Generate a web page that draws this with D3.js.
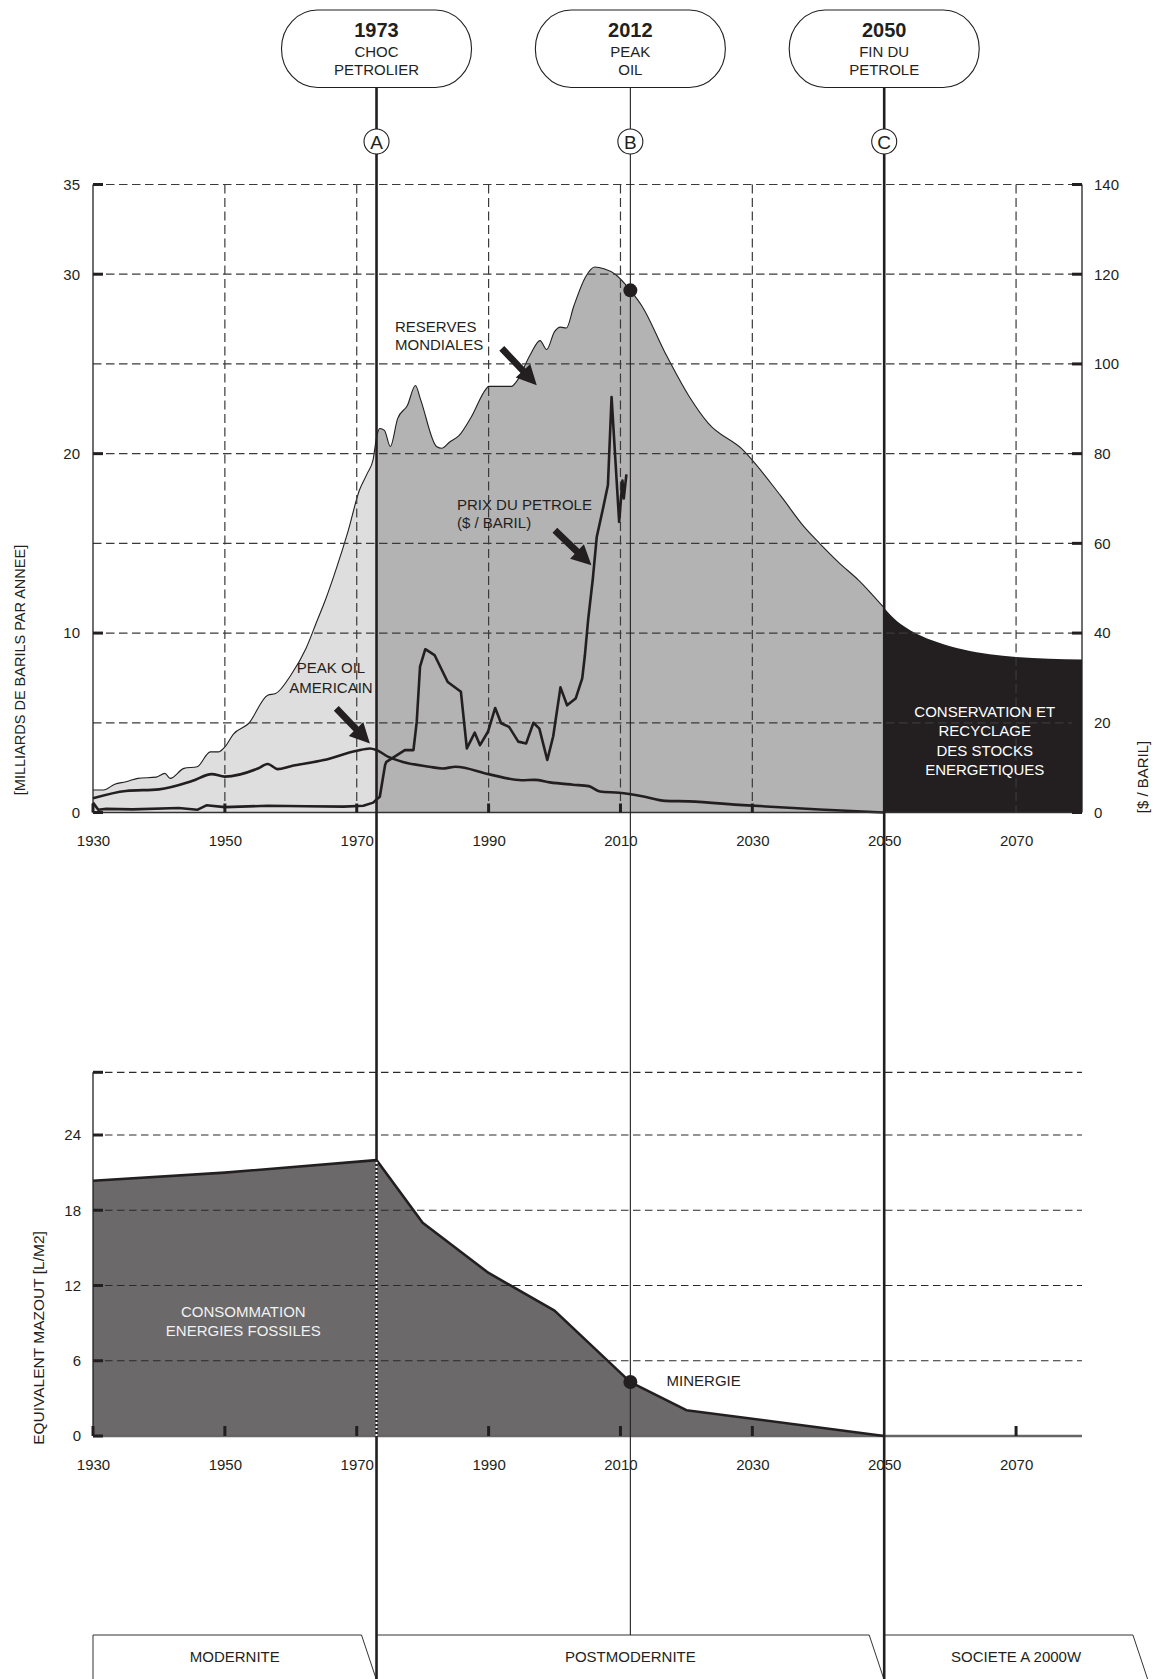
<!DOCTYPE html>
<html><head><meta charset="utf-8">
<script src="https://cdn.jsdelivr.net/npm/d3@7"></script>
<style>
body{margin:0;background:#fff;}
svg{display:block;font-family:"Liberation Sans",Arial,Helvetica,sans-serif;}
</style></head><body>
<svg id="c" width="1155" height="1679"></svg>
<script>
// ---------- DATA ----------
const xTickYears = [1930,1950,1970,1990,2010,2030,2050,2070];
const topLeftLabels = [0,10,20,30,35];
const topGrid = [5,10,15,20,25,30,35];
const priceTicks = [0,20,40,60,80,100,120,140];
const botTicks = [0,6,12,18,24];
const botGrid = [6,12,18,24,29];

// world reserves / production (billions of barrels per year)
const reserves = [[1930,1.25],[1931.6,1.25],[1933.3,1.58],[1935,1.71],[1936.8,1.9],[1939.6,1.97],[1940.9,2.18],[1941.7,1.9],[1943.8,2.46],[1945.8,2.55],[1947.8,3.38],[1949,3.38],[1950,3.66],[1951.3,4.37],[1953.6,4.96],[1956.5,6.54],[1957.7,6.63],[1960,7.65],[1962.3,9.14],[1964,10.7],[1965.2,11.8],[1967,13.7],[1968.7,15.7],[1970.4,17.96],[1971.6,18.9],[1972.5,19.7],[1973,20.9],[1973.5,21.4],[1974.2,21.3],[1975.1,20.4],[1976.2,21.95],[1977.7,22.7],[1978.9,23.8],[1979.7,23.0],[1982.1,20.4],[1982.9,20.3],[1984.1,20.65],[1985.5,21.0],[1987.3,22.0],[1989.6,23.6],[1990,23.75],[1993.5,23.75],[1994.2,24.0],[1996.3,25.5],[1997.8,26.3],[1998.8,25.8],[2000,26.8],[2000.9,27.05],[2001.8,27.0],[2002.9,28.2],[2004.7,29.85],[2006.1,30.4],[2007.5,30.3],[2009.2,30.0],[2011.5,29.1],[2013.3,28.2],[2016.8,25.6],[2020.4,23.2],[2023.3,21.7],[2028.6,20.2],[2034.4,17.6],[2037.9,15.9],[2040.2,15.0],[2043.2,13.9],[2046.1,12.95],[2047.8,12.3],[2050,11.4]];
const conservation = [[2050,11.4],[2051,11.0],[2052,10.65],[2053,10.38],[2055,9.95],[2058,9.5],[2062,9.08],[2066,8.82],[2070,8.67],[2075,8.57],[2080,8.53]];
const usProduction = [[1930,0.79],[1935,1.2],[1940,1.29],[1945,1.75],[1948,2.14],[1950,2.0],[1955,2.45],[1956.5,2.7],[1958,2.42],[1960,2.58],[1965,2.92],[1970,3.44],[1972,3.57],[1973,3.48],[1974.8,3.1],[1977,2.82],[1981,2.55],[1983,2.45],[1985,2.55],[1990,2.14],[1995,1.8],[1997,1.82],[1999.3,1.68],[2002.8,1.55],[2005.2,1.47],[2006.9,1.17],[2009.8,1.1],[2013.3,0.91],[2016.8,0.65],[2020.4,0.62],[2028.6,0.41],[2040.2,0.17],[2050,0]];
// oil price ($ / barrel)
const oilPrice = [[1930,2.2],[1930.8,0.6],[1932,0.8],[1936,0.7],[1943,1.0],[1945.8,0.6],[1947.2,1.6],[1950,1.2],[1956.5,1.5],[1962.3,1.4],[1968,1.3],[1971,1.5],[1972.5,2.2],[1973,2.9],[1973.5,3.5],[1974.3,10.6],[1974.5,11.3],[1977.3,13.9],[1978.6,13.9],[1979.1,20.2],[1979.6,32.5],[1980.4,36.4],[1981.8,35.1],[1983.8,29.1],[1985.8,26.9],[1986.7,14.3],[1987.9,17.8],[1988.7,15.0],[1989.9,18.0],[1991,23.3],[1991.9,19.9],[1993.1,19.1],[1994.5,15.8],[1995.7,15.4],[1996.8,20.0],[1997.7,18.7],[1998.9,11.7],[1999.8,17.0],[2000.9,27.9],[2001.9,23.9],[2003.2,25.4],[2004.2,29.9],[2004.6,35],[2005.1,43],[2005.8,52],[2006.4,61.4],[2007.4,68.1],[2008.1,73],[2008.65,92.6],[2009.8,64.8],[2010.3,74],[2010.5,70],[2010.9,75.4]];
// fossil energy consumption (litres of fuel oil equivalent / m2)
const consumption = [[1930,20.35],[1950,21.0],[1973,22.0],[1980,17.0],[1990,13.0],[2000,10.0],[2011.5,4.3],[2020,2.06],[2050,0]];

const eventYears = [1973, 2011.5, 2050];
const eventTitles = ["1973","2012","2050"];
const eventLines = [["CHOC","PETROLIER"],["PEAK","OIL"],["FIN DU","PETROLE"]];
const eventLetters = ["A","B","C"];
const eventHeavy = [true,false,true];

const eraFrom = [1930,1973,2050];
const eraTo = [1973,2050,2090];
const eraLabels = ["MODERNITE","POSTMODERNITE","SOCIETE A 2000W"];

// ---------- SCALES ----------
const svg = d3.select("#c");
const x = d3.scaleLinear().domain([1930,2080]).range([93,1082]);
const yT = d3.scaleLinear().domain([0,35]).range([812.5,184.5]);
const yP = d3.scaleLinear().domain([0,140]).range([812.5,184.5]);
const yB = d3.scaleLinear().domain([0,29]).range([1436,1072.3]);
const INK = "#231f20";
const FS = 15;

// ---------- TOP CHART ----------
const gTop = svg.append("g");
const area = d3.area().x(d=>x(d[0])).y0(yT(0)).y1(d=>yT(d[1])).curve(d3.curveMonotoneX);
gTop.append("path").datum(reserves.filter(d=>d[0]<=1973)).attr("d",area).attr("fill","#dedede");
gTop.append("path").datum(reserves.filter(d=>d[0]>=1973)).attr("d",area).attr("fill","#b3b3b3");
gTop.append("path").datum(conservation).attr("d",area).attr("fill",INK);
gTop.append("path").datum(reserves)
  .attr("d",d3.line().x(d=>x(d[0])).y(d=>yT(d[1])).curve(d3.curveMonotoneX))
  .attr("fill","none").attr("stroke",INK).attr("stroke-width",1.1);

// grid
gTop.selectAll(".hg").data(topGrid).enter().append("line")
  .attr("x1",x(1930)).attr("x2",x(2080)).attr("y1",d=>yT(d)).attr("y2",d=>yT(d))
  .attr("stroke","#3a3a3a").attr("stroke-width",1.2).attr("stroke-dasharray","8.5,4.5");
gTop.selectAll(".vg").data([1950,1970,1990,2010,2030,2070]).enter().append("line")
  .attr("x1",d=>x(d)).attr("x2",d=>x(d)).attr("y1",yT(35)).attr("y2",yT(0))
  .attr("stroke","#3a3a3a").attr("stroke-width",1.2).attr("stroke-dasharray","9,4.5");

// lines
gTop.append("path").datum(usProduction)
  .attr("d",d3.line().x(d=>x(d[0])).y(d=>yT(d[1])).curve(d3.curveMonotoneX))
  .attr("fill","none").attr("stroke",INK).attr("stroke-width",2.6);
gTop.append("path").datum(oilPrice)
  .attr("d",d3.line().x(d=>x(d[0])).y(d=>yP(d[1])))
  .attr("fill","none").attr("stroke",INK).attr("stroke-width",2.6).attr("stroke-linejoin","round");

// axes frame
gTop.append("line").attr("x1",x(1930)).attr("x2",x(1930)).attr("y1",yT(35)).attr("y2",yT(0)).attr("stroke",INK).attr("stroke-width",1.3);
gTop.append("line").attr("x1",x(2080)).attr("x2",x(2080)).attr("y1",yT(35)).attr("y2",yT(0)).attr("stroke",INK).attr("stroke-width",1.3);
gTop.append("line").attr("x1",x(1930)).attr("x2",x(2080)).attr("y1",yT(0)).attr("y2",yT(0)).attr("stroke","#333").attr("stroke-width",1.6);
// tick marks
gTop.selectAll(".lt").data(topLeftLabels).enter().append("line")
  .attr("x1",x(1930)).attr("x2",x(1930)+10).attr("y1",d=>yT(d)).attr("y2",d=>yT(d)).attr("stroke",INK).attr("stroke-width",3);
gTop.selectAll(".rt").data(priceTicks).enter().append("line")
  .attr("x1",x(2080)-10).attr("x2",x(2080)).attr("y1",d=>yP(d)).attr("y2",d=>yP(d)).attr("stroke",INK).attr("stroke-width",3);
gTop.selectAll(".bt").data([1930,1950,1970,1990,2010,2030]).enter().append("line")
  .attr("x1",d=>x(d)).attr("x2",d=>x(d)).attr("y1",yT(0)).attr("y2",yT(0)-9).attr("stroke",INK).attr("stroke-width",3);

function styleAxis(g){ g.select(".domain").remove(); g.selectAll("text").attr("font-size",FS).attr("fill",INK).attr("font-family","Liberation Sans, Arial, sans-serif"); }
gTop.append("g").attr("transform",`translate(0,${yT(0)})`)
  .call(d3.axisBottom(x).tickValues(xTickYears).tickSize(0).tickPadding(23).tickFormat(d3.format("d"))).call(styleAxis);
gTop.append("g").attr("transform",`translate(${x(1930)},0)`)
  .call(d3.axisLeft(yT).tickValues(topLeftLabels).tickSize(0).tickPadding(13)).call(styleAxis);
gTop.append("g").attr("transform",`translate(${x(2080)},0)`)
  .call(d3.axisRight(yP).tickValues(priceTicks).tickSize(0).tickPadding(12)).call(styleAxis);

svg.append("text").attr("transform","translate(25,670) rotate(-90)").attr("text-anchor","middle")
  .attr("font-size",14.5).attr("fill",INK).text("[MILLIARDS DE BARILS PAR ANNEE]");
svg.append("text").attr("transform","translate(1148,777) rotate(-90)").attr("text-anchor","middle")
  .attr("font-size",15).attr("fill",INK).text("[$ / BARIL]");

// annotations
function multi(g, lines, px, py, anchor, fill, gap){
  const t = g.append("text").attr("text-anchor",anchor).attr("font-size",FS).attr("fill",fill);
  lines.forEach((s,i)=>t.append("tspan").attr("x",px).attr("y",py+i*gap).text(s));
}
multi(gTop,["RESERVES","MONDIALES"],x(1975.8),yT(26.8),"start",INK,18.3);
multi(gTop,["PRIX DU PETROLE","($ / BARIL)"],x(1985.2),yT(16.85),"start",INK,18.3);
multi(gTop,["PEAK OIL","AMERICAIN"],x(1966.1),yT(7.75),"middle",INK,19.2);
multi(gTop,["CONSERVATION ET","RECYCLAGE","DES STOCKS","ENERGETIQUES"],x(2065.25),yT(5.31),"middle","#fff",19.2);

const arrows = [[[1992.0,25.87],[1997.3,23.81]],[[2000.05,15.73],[2005.6,13.78]],[[1966.9,5.8],[1972.0,3.85]]];
arrows.forEach(a=>{
  const sx=x(a[0][0]), sy=yT(a[0][1]), tx=x(a[1][0]), ty=yT(a[1][1]);
  const L=Math.hypot(tx-sx,ty-sy), ux=(tx-sx)/L, uy=(ty-sy)/L, nx=-uy, ny=ux;
  const hl=20, hw=10, sw=3.4;
  const bx=tx-ux*hl, by=ty-uy*hl;
  const pts=[[sx+nx*sw,sy+ny*sw],[bx+nx*sw,by+ny*sw],[bx+nx*hw,by+ny*hw],[tx,ty],[bx-nx*hw,by-ny*hw],[bx-nx*sw,by-ny*sw],[sx-nx*sw,sy-ny*sw]];
  gTop.append("path").attr("d","M"+pts.map(p=>p.join(",")).join("L")+"Z").attr("fill",INK);
});

// ---------- BOTTOM CHART ----------
const gBot = svg.append("g");
gBot.append("path").datum(consumption)
  .attr("d",d3.area().x(d=>x(d[0])).y0(yB(0)).y1(d=>yB(d[1])))
  .attr("fill","#6b6969");
gBot.append("line").attr("x1",x(1930)).attr("x2",x(2080)).attr("y1",yB(0)).attr("y2",yB(0)).attr("stroke","#666").attr("stroke-width",2.5);
gBot.selectAll(".hg").data(botGrid).enter().append("line")
  .attr("x1",x(1930)).attr("x2",x(2080)).attr("y1",d=>yB(d)).attr("y2",d=>yB(d))
  .attr("stroke","#2a2a2a").attr("stroke-width",1.2).attr("stroke-dasharray","7.5,4.5");
gBot.append("path").datum(consumption)
  .attr("d",d3.line().x(d=>x(d[0])).y(d=>yB(d[1])))
  .attr("fill","none").attr("stroke",INK).attr("stroke-width",2.6).attr("stroke-linejoin","round");
gBot.append("line").attr("x1",x(1930)).attr("x2",x(1930)).attr("y1",yB(29)).attr("y2",yB(0)).attr("stroke",INK).attr("stroke-width",1.3);
gBot.selectAll(".lt").data(botGrid.concat([0])).enter().append("line")
  .attr("x1",x(1930)).attr("x2",x(1930)+10).attr("y1",d=>yB(d)).attr("y2",d=>yB(d)).attr("stroke",INK).attr("stroke-width",3);
gBot.selectAll(".bt").data([1930,1950,1970,1990,2010,2030,2070]).enter().append("line")
  .attr("x1",d=>x(d)).attr("x2",d=>x(d)).attr("y1",yB(0)).attr("y2",yB(0)-10).attr("stroke",INK).attr("stroke-width",3);
gBot.append("g").attr("transform",`translate(0,${yB(0)})`)
  .call(d3.axisBottom(x).tickValues(xTickYears).tickSize(0).tickPadding(23).tickFormat(d3.format("d"))).call(styleAxis);
gBot.append("g").attr("transform",`translate(${x(1930)},0)`)
  .call(d3.axisLeft(yB).tickValues(botTicks).tickSize(0).tickPadding(12)).call(styleAxis);
svg.append("text").attr("transform","translate(44,1338) rotate(-90)").attr("text-anchor","middle")
  .attr("font-size",15.5).attr("fill",INK).text("EQUIVALENT MAZOUT [L/M2]");
multi(gBot,["CONSOMMATION","ENERGIES FOSSILES"],x(1952.8),yB(9.5),"middle","#f2f2f2",19);
multi(gBot,["MINERGIE"],x(2017),yB(4.0),"start",INK,18);

// ---------- ERA BANDS ----------
const bandTop=1635, bandTip=1680, bandBot=1725;
eraFrom.forEach((f,i)=>{
  const l=x(f), r=x(eraTo[i]);
  svg.append("path").attr("d",`M${l},${bandBot}L${l},${bandTop}L${r-15},${bandTop}L${r},${bandTip}L${r-15},${bandBot}`)
    .attr("fill","#fff").attr("stroke","#333").attr("stroke-width",1);
  svg.append("text").attr("x",(l+r)/2).attr("y",1662).attr("text-anchor","middle").attr("font-size",FS).attr("fill",INK).text(eraLabels[i]);
});

// ---------- EVENT LINES ----------
eventYears.forEach((yr,i)=>{
  const cx=x(yr);
  svg.append("line").attr("x1",cx).attr("x2",cx).attr("y1",87).attr("y2",eventHeavy[i]?1679:bandTop)
    .attr("stroke",INK).attr("stroke-width",eventHeavy[i]?2.6:1.1);
  svg.append("rect").attr("x",cx-95).attr("y",10).attr("width",190).attr("height",77.5).attr("rx",36).attr("ry",38.5)
    .attr("fill","#fff").attr("stroke",INK).attr("stroke-width",1.1);
  svg.append("text").attr("x",cx).attr("y",37).attr("text-anchor","middle").attr("font-size",20).attr("font-weight","bold").attr("fill",INK).text(eventTitles[i]);
  svg.append("text").attr("x",cx).attr("y",56.5).attr("text-anchor","middle").attr("font-size",FS).attr("fill",INK).text(eventLines[i][0]);
  svg.append("text").attr("x",cx).attr("y",75).attr("text-anchor","middle").attr("font-size",FS).attr("fill",INK).text(eventLines[i][1]);
  svg.append("circle").attr("cx",cx).attr("cy",141.5).attr("r",12.5).attr("fill","#fff").attr("stroke",INK).attr("stroke-width",1.1);
  svg.append("text").attr("x",cx).attr("y",148.5).attr("text-anchor","middle").attr("font-size",19).attr("fill",INK).text(eventLetters[i]);
});
// white dotted segment of line A inside the consumption area
const a73 = consumption.find(d=>d[0]===1973);
svg.append("line").attr("x1",x(1973)).attr("x2",x(1973)).attr("y1",yB(a73[1])+2).attr("y2",yB(0))
  .attr("stroke","#fff").attr("stroke-width",2).attr("stroke-dasharray","2,2");
// dots
const rB = reserves.find(d=>d[0]===2011.5), cB = consumption.find(d=>d[0]===2011.5);
svg.append("circle").attr("cx",x(rB[0])).attr("cy",yT(rB[1])).attr("r",7).attr("fill",INK);
svg.append("circle").attr("cx",x(cB[0])).attr("cy",yB(cB[1])).attr("r",7).attr("fill",INK);
</script>
</body></html>
